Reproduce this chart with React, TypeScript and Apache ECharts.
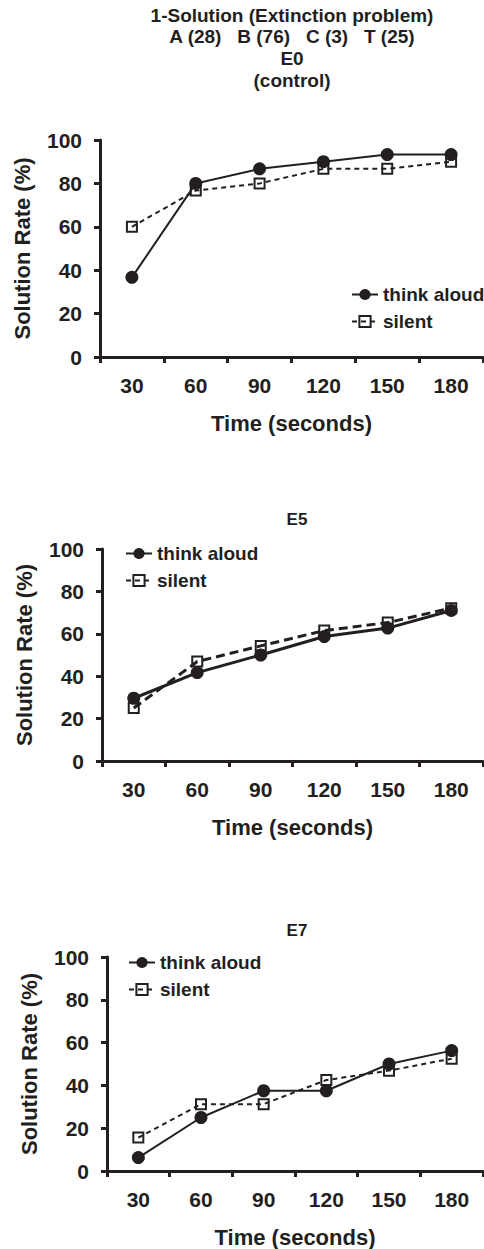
import React, { useEffect, useRef } from "react";
import * as echarts from "echarts";

const categories = ["30", "60", "90", "120", "150", "180"];
const yTicks = [0, 20, 40, 60, 80, 100];
const seriesNames = ["think aloud", "silent"];

const e0Think = [36.7, 80, 86.7, 90, 93.3, 93.3];
const e0Silent = [60, 76.7, 80, 86.7, 86.7, 90];
const e5Think = [29.6, 41.7, 50, 58.7, 62.7, 71];
const e5Silent = [25, 46.9, 54.3, 61.5, 65.3, 72.1];
const e7Think = [6.25, 25, 37.5, 37.5, 50, 56.25];
const e7Silent = [15.6, 31.25, 31.25, 42.5, 46.9, 52.5];

const topTitleLines = ["1-Solution (Extinction problem)", "A (28)   B (76)   C (3)   T (25)", "E0", "(control)"];
const panelTitles = ["E5", "E7"];
const xAxisTitle = "Time (seconds)";
const yAxisTitle = "Solution Rate (%)";

const INK = "#231f20";
const FONT = "'Liberation Sans', Arial, Helvetica, sans-serif";

export default function App() {
  const ref = useRef<HTMLDivElement>(null);
  useEffect(() => {
    document.body.style.margin = "0";
    if (!ref.current) return;
    const chart = echarts.init(ref.current, null, { renderer: "svg" });

    const grids = [
      { left: 100, top: 140, width: 383, height: 217 },
      { left: 102, top: 549, width: 381, height: 212 },
      { left: 107, top: 957, width: 376, height: 215 },
    ];

    const xAxes = grids.map((_, i) => ({
      type: "category",
      gridIndex: i,
      data: categories,
      boundaryGap: true,
      axisLine: { show: true, lineStyle: { color: INK, width: 3 } },
      axisTick: { show: true, length: 6, lineStyle: { color: INK, width: 3 }, alignWithLabel: false },
      axisLabel: { color: INK, fontSize: 21, fontWeight: "bold", fontFamily: FONT, margin: 18 },
      name: xAxisTitle,
      nameLocation: "middle",
      nameGap: 55,
      nameTextStyle: { color: INK, fontSize: 22, fontWeight: "bold", fontFamily: FONT },
      splitLine: { show: false },
    }));

    const yAxes = grids.map((_, i) => ({
      type: "value",
      gridIndex: i,
      min: yTicks[0],
      max: yTicks[yTicks.length - 1],
      interval: 20,
      axisLine: { show: true, lineStyle: { color: INK, width: 3 } },
      axisTick: { show: true, length: 6, lineStyle: { color: INK, width: 3 } },
      axisLabel: { color: INK, fontSize: 21, fontWeight: "bold", fontFamily: FONT, margin: 18 },
      splitLine: { show: false },
      name: yAxisTitle,
      nameLocation: "middle",
      nameRotate: 90,
      nameGap: 67,
      nameTextStyle: { color: INK, fontSize: 22, fontWeight: "bold", fontFamily: FONT },
    }));

    const data = [
      [e0Think, e0Silent],
      [e5Think, e5Silent],
      [e7Think, e7Silent],
    ];
    const lineW = [2, 3, 2];
    const dash = [[5, 4], [9, 5], [5, 4]];

    const series: any[] = [];
    data.forEach((pair, i) => {
      series.push({
        type: "line",
        name: seriesNames[0],
        xAxisIndex: i,
        yAxisIndex: i,
        data: pair[0],
        symbol: "circle",
        symbolSize: 13,
        itemStyle: { color: INK },
        lineStyle: { color: INK, width: lineW[i], type: "solid" },
        z: 3,
      });
      series.push({
        type: "line",
        name: seriesNames[1],
        xAxisIndex: i,
        yAxisIndex: i,
        data: pair[1],
        symbol: "rect",
        symbolSize: 10,
        itemStyle: { color: "rgba(255,255,255,0)", borderColor: INK, borderWidth: 2 },
        lineStyle: { color: INK, width: lineW[i], type: dash[i] },
        z: 4,
      });
    });

    const legendBase = {
      orient: "vertical",
      selectedMode: false,
      itemWidth: 26,
      itemHeight: 14,
      itemGap: 8,
      data: seriesNames,
      textStyle: { color: INK, fontSize: 19, fontWeight: "bold", fontFamily: FONT },
      padding: 0,
    };

    const legends = [
      { ...legendBase, left: 351, top: 285 },
      { ...legendBase, left: 125, top: 544 },
      { ...legendBase, left: 128, top: 953 },
    ];

    const titleCx = 292;
    const graphic: any[] = topTitleLines.map((t, k) => ({
      type: "text",
      x: titleCx,
      y: 15 + k * 21.7,
      style: {
        text: t,
        fill: INK,
        font: `bold 19px ${FONT}`,
        textAlign: "center",
        textVerticalAlign: "middle",
      },
    }));
    graphic.push({
      type: "text",
      x: 297,
      y: 519,
      style: { text: panelTitles[0], fill: INK, font: `bold 17px ${FONT}`, textAlign: "center", textVerticalAlign: "middle" },
    });
    graphic.push({
      type: "text",
      x: 297,
      y: 930,
      style: { text: panelTitles[1], fill: INK, font: `bold 17px ${FONT}`, textAlign: "center", textVerticalAlign: "middle" },
    });

    chart.setOption({
      animation: false,
      backgroundColor: "#ffffff",
      textStyle: { fontFamily: FONT },
      grid: grids,
      xAxis: xAxes,
      yAxis: yAxes,
      legend: legends,
      series,
      graphic,
    });
    return () => chart.dispose();
  }, []);
  return <div ref={ref} style={{ width: 484, height: 1249 }} />;
}
